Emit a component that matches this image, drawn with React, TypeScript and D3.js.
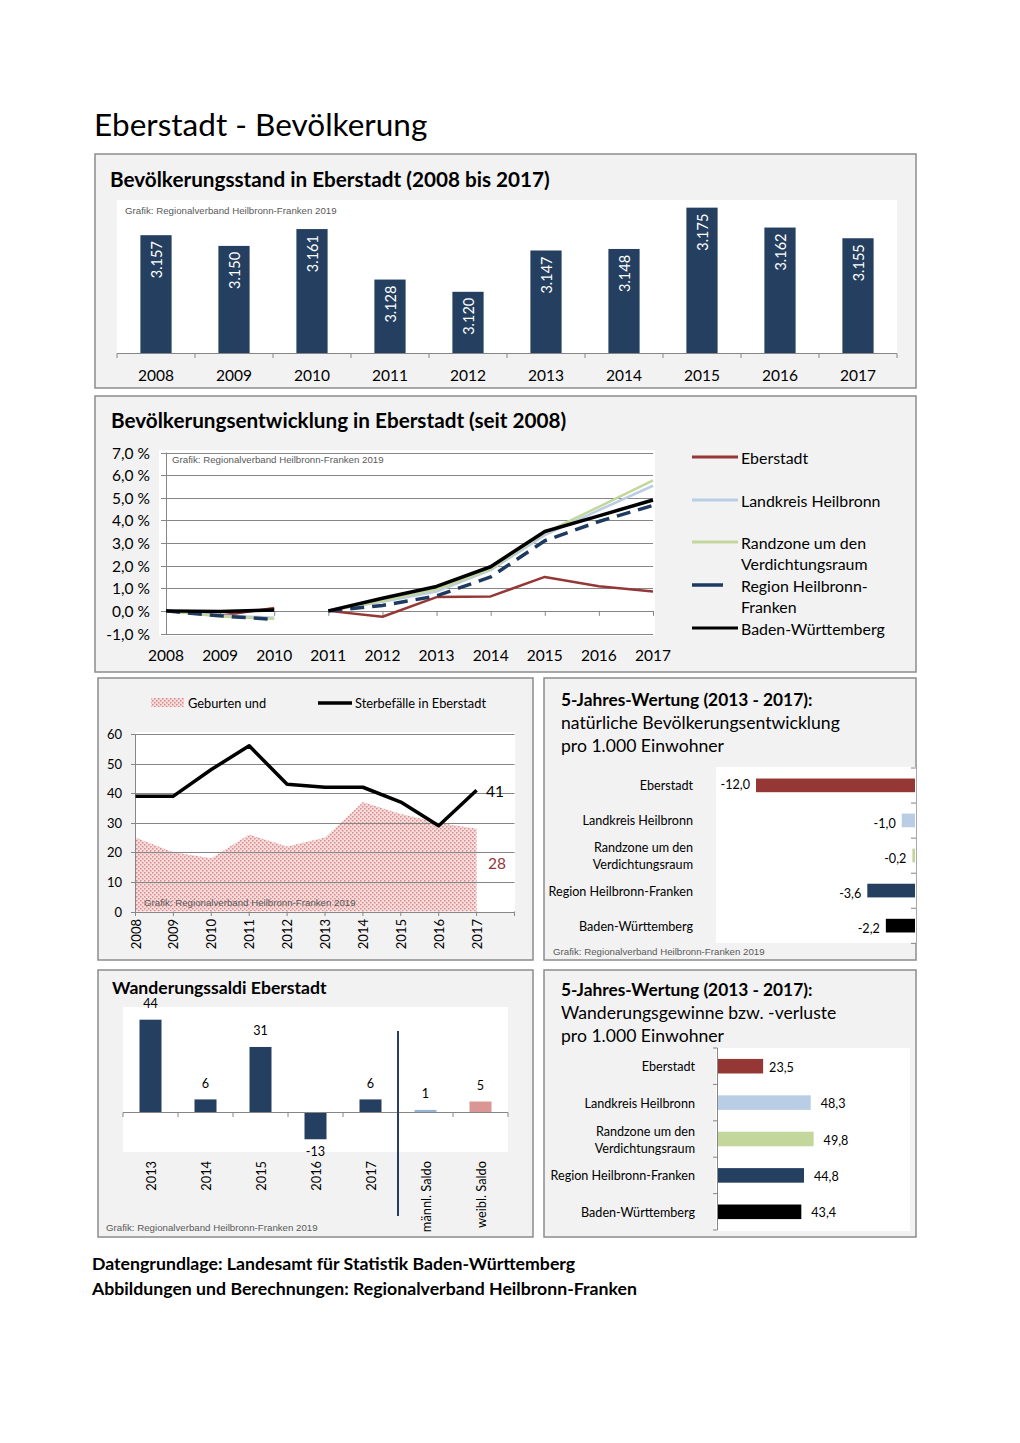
import React from 'react';
import * as d3 from 'd3';

const FONT = "Lato, 'Open Sans', sans-serif";
const GRID = '#868686';
const PANEL_FILL = '#f2f2f2';
const PANEL_STROKE = '#8c8c8c';
const NAVY = '#243f60';

// --- Chart 1: Bevölkerungsstand
const years = ['2008', '2009', '2010', '2011', '2012', '2013', '2014', '2015', '2016', '2017'];
const population = [3157, 3150, 3161, 3128, 3120, 3147, 3148, 3175, 3162, 3155];

// --- Chart 2: Bevölkerungsentwicklung (%), series break between 2010 and 2011
const devEberstadt = [0, -0.22, 0.13, 0, -0.26, 0.61, 0.64, 1.5, 1.09, 0.86];
const devLandkreis = [0, -0.2, -0.3, 0, 0.4, 0.85, 1.8, 3.35, 4.45, 5.53];
const devRandzone = [0, -0.25, -0.35, 0, 0.45, 0.95, 1.85, 3.45, 4.6, 5.77];
const devRegion = [0, -0.22, -0.38, 0, 0.24, 0.66, 1.5, 3.1, 3.95, 4.66];
const devBW = [0, -0.03, 0.04, 0, 0.56, 1.08, 1.95, 3.51, 4.2, 4.9];
const devTicks = [-1, 0, 1, 2, 3, 4, 5, 6, 7];
const breakIndex = 3;

// --- Chart 3: Geburten / Sterbefälle
const births = [25, 20, 18, 26, 22, 25, 37, 33, 30, 28];
const deaths = [39, 39, 48, 56, 43, 42, 42, 37, 29, 41];
const bdTicks = [0, 10, 20, 30, 40, 50, 60];

// --- Chart 4/6: 5-Jahres-Wertung
const regions = ['Eberstadt', 'Landkreis Heilbronn', 'Randzone um den\nVerdichtungsraum', 'Region Heilbronn-Franken', 'Baden-Württemberg'];
const regionColors = ['#953735', '#b9cde5', '#c3d69b', '#243f60', '#000000'];
const naturalValues = [-12.0, -1.0, -0.2, -3.6, -2.2];
const migrationValues = [23.5, 48.3, 49.8, 44.8, 43.4];

// --- Chart 5: Wanderungssaldi
const saldoCategories = ['2013', '2014', '2015', '2016', '2017', 'männl. Saldo', 'weibl. Saldo'];
const saldoValues = [44, 6, 31, -13, 6, 1, 5];
const saldoColors = [NAVY, NAVY, NAVY, NAVY, NAVY, '#95b3d7', '#d99694'];

const fmt1 = (v: number) => v.toFixed(1).replace('.', ',');
const fmtThousands = (v: number) => String(v).replace(/(\d)(?=(\d{3})+$)/, '$1.');

const Credit = ({ x, y }: { x: number; y: number }) => (
  <text x={x} y={y} fontFamily="Arial, 'Liberation Sans', sans-serif" fontSize={9.7} fill="#595959">
    Grafik: Regionalverband Heilbronn-Franken 2019
  </text>
);

const Panel = ({ x, y, w, h }: { x: number; y: number; w: number; h: number }) => (
  <rect x={x} y={y} width={w} height={h} fill={PANEL_FILL} stroke={PANEL_STROKE} strokeWidth={1.5} />
);

function MultiLine({ x, y, text, anchor, size, lh, fill }: any) {
  const lines = text.split('\n');
  const y0 = y - ((lines.length - 1) * lh) / 2;
  return (
    <text x={x} y={y0} textAnchor={anchor} fontSize={size} fill={fill || '#000'} dominantBaseline="central">
      {lines.map((l: string, i: number) => (
        <tspan key={i} x={x} y={y0 + i * lh}>{l}</tspan>
      ))}
    </text>
  );
}

function Chart1() {
  const x = d3.scaleBand().domain(years).range([117, 897]).paddingInner(0.6).paddingOuter(0.3);
  const y = d3.scaleLinear().domain([3080, 3180]).range([353, 200]);
  const step = x.step();
  return (
    <g>
      <Panel x={95} y={154} w={821} h={234} />
      <text x={110} y={187} fontSize={20.7} fontWeight="bold">Bevölkerungsstand in Eberstadt (2008 bis 2017)</text>
      <rect x={117} y={200} width={780} height={154} fill="#fff" />
      <Credit x={125} y={214} />
      {population.map((v, i) => {
        const cx = x(years[i])! + x.bandwidth() / 2;
        return (
          <g key={i}>
            <rect x={x(years[i])} y={y(v)} width={x.bandwidth()} height={y(3080) - y(v)} fill={NAVY} />
            <text transform={`translate(${cx},${y(v) + 6}) rotate(-90)`} textAnchor="end" dominantBaseline="central" fill="#fff" fontSize={14.5}>
              {fmtThousands(v)}
            </text>
          </g>
        );
      })}
      <line x1={117} x2={897} y1={353.5} y2={353.5} stroke={GRID} />
      {d3.range(years.length + 1).map(i => (
        <line key={i} x1={117 + i * step} x2={117 + i * step} y1={353.5} y2={358} stroke={GRID} />
      ))}
      {years.map(yr => (
        <text key={yr} x={x(yr)! + x.bandwidth() / 2} y={381} textAnchor="middle" fontSize={15.5}>{yr}</text>
      ))}
    </g>
  );
}

function Chart2() {
  const x = d3.scalePoint().domain(years).range([166, 653]);
  const y = d3.scaleLinear().domain([-1, 7]).range([633.5, 452.5]);
  const line = d3.line<number>().x((_, i) => x(years[i])!).y(d => y(d));
  const seg = (arr: number[]) => [
    line.x((_, i) => x(years[i])!)(arr.slice(0, breakIndex)),
    line.x((_, i) => x(years[i + breakIndex])!)(arr.slice(breakIndex)),
  ];
  const series = [
    { name: 'Eberstadt', data: devEberstadt, color: '#953735', w: 2.5, dash: '' },
    { name: 'Landkreis Heilbronn', data: devLandkreis, color: '#b9cde5', w: 2.5, dash: '' },
    { name: 'Randzone um den\nVerdichtungsraum', data: devRandzone, color: '#c3d69b', w: 2.5, dash: '' },
    { name: 'Region Heilbronn-\nFranken', data: devRegion, color: '#1f3a60', w: 3.5, dash: '14 8' },
    { name: 'Baden-Württemberg', data: devBW, color: '#000', w: 3.5, dash: '' },
  ];
  const legendY = [457, 500, 552.5, 595.5, 628];
  const legendLineY = [457, 500, 542, 585, 628];
  return (
    <g>
      <Panel x={95} y={396} w={821} h={276} />
      <text x={111} y={428} fontSize={20.7} fontWeight="bold">Bevölkerungsentwicklung in Eberstadt (seit 2008)</text>
      <rect x={159} y={450} width={496} height={186} fill="#fff" />
      {devTicks.map(t => (
        <g key={t}>
          <line x1={161} x2={653} y1={Math.round(y(t)) + 0.5} y2={Math.round(y(t)) + 0.5} stroke={GRID} />
          <text x={150} y={y(t)} textAnchor="end" dominantBaseline="central" fontSize={15.5}>{fmt1(t)} %</text>
        </g>
      ))}
      <line x1={166.5} x2={166.5} y1={452.5} y2={634} stroke={GRID} />
      {years.map(yr => (
        <line key={yr} x1={x(yr)! + 0.5} x2={x(yr)! + 0.5} y1={y(0)} y2={y(0) + 5} stroke={GRID} />
      ))}
      <Credit x={172} y={463} />
      {series.map(s =>
        seg(s.data).map((d, k) => (
          <path key={s.name + k} d={d!} fill="none" stroke={s.color} strokeWidth={s.w} strokeDasharray={s.dash} strokeLinejoin="round" />
        ))
      )}
      {years.map(yr => (
        <text key={yr} x={x(yr)} y={661} textAnchor="middle" fontSize={15.5}>{yr}</text>
      ))}
      {series.map((s, i) => (
        <g key={s.name}>
          <line x1={692} x2={i === 3 ? 723 : 738} y1={legendLineY[i]} y2={legendLineY[i]} stroke={s.color} strokeWidth={i === 3 ? 3.5 : 3} />
          <MultiLine x={741} y={legendY[i]} text={s.name} anchor="start" size={15.9} lh={21.5} />
        </g>
      ))}
    </g>
  );
}

function Chart3() {
  const x = d3.scaleLinear().domain([0, 10]).range([135.5, 514.5]);
  const y = d3.scaleLinear().domain([0, 60]).range([911.5, 734]);
  const area = d3.area<number>().x((_, i) => x(i)).y0(y(0)).y1(d => y(d));
  const line = d3.line<number>().x((_, i) => x(i)).y(d => y(d));
  return (
    <g>
      <Panel x={98} y={678} w={435} h={282} />
      <rect x={151} y={698} width={33} height={9} fill="url(#dots)" />
      <text x={188} y={703} dominantBaseline="central" fontSize={12.8}>Geburten und</text>
      <line x1={318} x2={352} y1={703} y2={703} stroke="#000" strokeWidth={3.5} />
      <text x={355} y={703} dominantBaseline="central" fontSize={12.8}>Sterbefälle in Eberstadt</text>
      <rect x={135} y={732} width={380} height={180} fill="#fff" />
      <path d={area(births)!} fill="url(#dots)" />
      {bdTicks.map(t => (
        <g key={t}>
          <line x1={131} x2={514.5} y1={Math.round(y(t)) + 0.5} y2={Math.round(y(t)) + 0.5} stroke={GRID} />
          <text x={122} y={y(t)} textAnchor="end" dominantBaseline="central" fontSize={13}>{t}</text>
        </g>
      ))}
      <line x1={135.5} x2={135.5} y1={734} y2={912} stroke={GRID} />
      {d3.range(11).map(i => (
        <line key={i} x1={x(i)} x2={x(i)} y1={911.5} y2={916} stroke={GRID} />
      ))}
      <Credit x={144} y={906} />
      <path d={line(deaths)!} fill="none" stroke="#000" strokeWidth={3.5} strokeLinejoin="round" />
      <text x={486} y={791} dominantBaseline="central" fontSize={15.5}>{deaths[9]}</text>
      <text x={488} y={863} dominantBaseline="central" fontSize={15.5} fill="#953735">{births[9]}</text>
      {years.map((yr, i) => (
        <text key={yr} transform={`translate(${x(i)},${919}) rotate(-90)`} textAnchor="end" dominantBaseline="central" fontSize={13}>{yr}</text>
      ))}
    </g>
  );
}

function Chart4() {
  const x = d3.scaleLinear().domain([-12, 0]).range([756, 915]);
  const y = d3.scaleBand().domain(regions).range([768, 943]).paddingInner(0.61).paddingOuter(0.3);
  const step = y.step();
  return (
    <g>
      <Panel x={544} y={678} w={372} h={282} />
      <text x={561} y={706} fontSize={17.3} fontWeight="bold">5-Jahres-Wertung (2013 - 2017):</text>
      <text x={561} y={729} fontSize={17.6}>natürliche Bevölkerungsentwicklung</text>
      <text x={561} y={752} fontSize={17.6}>pro 1.000 Einwohner</text>
      <rect x={716} y={767} width={200} height={176} fill="#fff" />
      {naturalValues.map((v, i) => {
        const cy = y(regions[i])! + y.bandwidth() / 2;
        return (
          <g key={i}>
            <rect x={x(v)} y={y(regions[i])} width={x(0) - x(v)} height={y.bandwidth()} fill={regionColors[i]} />
            <text x={x(v) - 6} y={cy + (i === 0 ? -1 : 3)} textAnchor="end" dominantBaseline="central" fontSize={12.6}>{fmt1(v)}</text>
            <MultiLine x={693} y={cy} text={regions[i]} anchor="end" size={12.6} lh={17} />
          </g>
        );
      })}
      {d3.range(6).map(i => (
        <line key={i} x1={911} x2={916} y1={768 + i * step} y2={768 + i * step} stroke={GRID} />
      ))}
      <Credit x={553} y={955} />
    </g>
  );
}

function Chart5() {
  const x = d3.scaleBand().domain(saldoCategories).range([123, 508]).paddingInner(0.6).paddingOuter(0.3);
  const y = d3.scaleLinear().domain([0, 44]).range([1112, 1019.7]);
  const step = x.step();
  return (
    <g>
      <Panel x={98} y={970} w={435} h={267} />
      <text x={112} y={994} fontSize={17.6} fontWeight="bold">Wanderungssaldi Eberstadt</text>
      <rect x={123} y={1007} width={385} height={145} fill="#fff" />
      {saldoValues.map((v, i) => {
        const c = saldoCategories[i];
        const cx = x(c)! + x.bandwidth() / 2;
        const top = Math.min(y(v), y(0));
        return (
          <g key={c}>
            <rect x={x(c)} y={top} width={x.bandwidth()} height={Math.abs(y(v) - y(0))} fill={saldoColors[i]} />
            <text x={cx} y={v >= 0 ? y(v) - 16 : y(v) + 12} textAnchor="middle" dominantBaseline="central" fontSize={12.6}>{v}</text>
            <text transform={`translate(${cx},${1161}) rotate(-90)`} textAnchor="end" dominantBaseline="central" fontSize={12.8}>{c}</text>
          </g>
        );
      })}
      <line x1={123} x2={508} y1={1112.5} y2={1112.5} stroke={GRID} />
      {d3.range(saldoCategories.length + 1).map(i => (
        <line key={i} x1={123 + i * step} x2={123 + i * step} y1={1112.5} y2={1117} stroke={GRID} />
      ))}
      <line x1={398} x2={398} y1={1031} y2={1216} stroke={NAVY} strokeWidth={2} />
      <Credit x={106} y={1231} />
    </g>
  );
}

function Chart6() {
  const x = d3.scaleLinear().domain([0, 50]).range([718, 814]);
  const y = d3.scaleBand().domain(regions).range([1048, 1230]).paddingInner(0.6).paddingOuter(0.3);
  const step = y.step();
  return (
    <g>
      <Panel x={544} y={970} w={372} h={267} />
      <text x={561} y={996} fontSize={17.3} fontWeight="bold">5-Jahres-Wertung (2013 - 2017):</text>
      <text x={561} y={1019} fontSize={17.6}>Wanderungsgewinne bzw. -verluste</text>
      <text x={561} y={1042} fontSize={17.6}>pro 1.000 Einwohner</text>
      <rect x={716} y={1048} width={194} height={183} fill="#fff" />
      {migrationValues.map((v, i) => {
        const cy = y(regions[i])! + y.bandwidth() / 2;
        return (
          <g key={i}>
            <rect x={x(0)} y={y(regions[i])} width={x(v) - x(0)} height={y.bandwidth()} fill={regionColors[i]} />
            <text x={x(v) + (i === 0 ? 6 : 10)} y={cy + 1} dominantBaseline="central" fontSize={12.6}>{fmt1(v)}</text>
            <MultiLine x={695} y={cy} text={regions[i]} anchor="end" size={12.6} lh={17} />
          </g>
        );
      })}
      <line x1={717.5} x2={717.5} y1={1048} y2={1230} stroke={GRID} />
      {d3.range(6).map(i => (
        <line key={i} x1={713} x2={717.5} y1={1048 + i * step} y2={1048 + i * step} stroke={GRID} />
      ))}
    </g>
  );
}

export default function App() {
  return (
    <svg width={1020} height={1443} style={{ position: 'absolute', left: 0, top: 0, background: '#fff' }} fontFamily={FONT}>
      <defs>
        <pattern id="dots" width={4} height={4} patternUnits="userSpaceOnUse">
          <rect width={4} height={4} fill="#f6dcdc" />
          <rect x={0} y={0} width={1.5} height={1.5} fill="#d88a8a" />
          <rect x={2} y={2} width={1.5} height={1.5} fill="#d88a8a" />
        </pattern>
      </defs>
      <rect width={1020} height={1443} fill="#fff" />
      <text x={94} y={136} fontSize={31.5}>Eberstadt - Bevölkerung</text>
      <Chart1 />
      <Chart2 />
      <Chart3 />
      <Chart4 />
      <Chart5 />
      <Chart6 />
      <text x={92} y={1270} fontSize={17.7} fontWeight="bold">Datengrundlage: Landesamt für Statistik Baden-Württemberg</text>
      <text x={92} y={1295} fontSize={17.7} fontWeight="bold">Abbildungen und Berechnungen: Regionalverband Heilbronn-Franken</text>
    </svg>
  );
}
